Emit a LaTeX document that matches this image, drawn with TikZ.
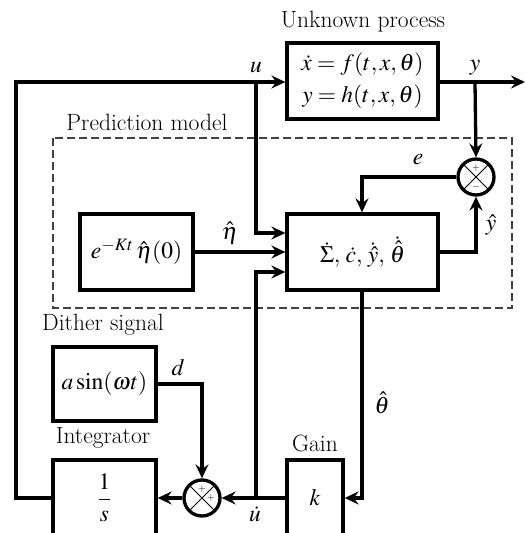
\documentclass[tikz,border=0pt]{standalone}
\usepackage{mathptmx}
\usetikzlibrary{arrows.meta}
\begin{document}
\begin{tikzpicture}[x=1pt,y=-1pt,
  font=\fontsize{23.5}{28}\selectfont,
  >={Stealth[length=14pt,width=13pt,inset=5pt]},
  blk/.style={draw, line width=3.3pt, rectangle, inner sep=0pt},
  sumnode/.style={draw, circle, line width=3.3pt, minimum size=36pt, inner sep=0pt,
    path picture={\draw[line width=0.9pt] (path picture bounding box.north west) -- (path picture bounding box.south east)
      (path picture bounding box.north east) -- (path picture bounding box.south west);}},
  wire/.style={line width=3.3pt},
  lbl/.style={inner sep=0pt},
  sgn/.style={font=\fontsize{10}{10}\selectfont, inner sep=0pt}]
\useasboundingbox (0,0) rectangle (525,533);
% dashed prediction model frame
\draw[black!75, line width=1.1pt, dash pattern=on 8pt off 4pt] (53,138) rectangle (512,308);
% blocks
\node[blk, minimum width=151pt, minimum height=76pt, align=center, font=\fontsize{23.5}{32}\selectfont] (proc) at (362.5,81) {$\dot x = f(t,x,\theta)$\\$y = h(t,x,\theta)$};
\node[blk, minimum width=151pt, minimum height=76pt] (main) at (362.5,252) {$\dot\Sigma,\,\dot c,\,\dot{\hat y},\,\dot{\hat\theta}$};
\node[blk, minimum width=113pt, minimum height=76pt] (init) at (136.5,252) {$e^{-Kt}\,\hat\eta(0)$};
\node[blk, minimum width=103pt, minimum height=74pt] (dith) at (104.5,384) {$a\sin(\omega t)$};
\node[blk, minimum width=103pt, minimum height=76pt] (integ) at (104.5,498) {$\displaystyle\frac{1}{s}$};
\node[blk, minimum width=56pt, minimum height=76pt] (gain) at (315,498) {$k$};
\node[sumnode] (s1) at (476,177) {};
\node[sumnode] (s2) at (202,498) {};
\node[sgn] (s1p) at (476,168) {+};
\node[sgn] (s1m) at (476,187) {$-$};
\node[sgn] (s2p) at (202,489) {+};
\node[sgn] (s2q) at (211,498) {+};
% titles
\node[lbl] (tproc) at (363,22) {Unknown process};
\node[lbl] (tpred) at (147,122) {Prediction model};
\node[lbl] (tdith) at (103,325) {Dither signal};
\node[lbl] (tint) at (103,438) {Integrator};
\node[lbl] (tgain) at (315,443) {Gain};
% coordinates
\coordinate (uB) at (256,82);
\coordinate (uL) at (16,82);
\coordinate (yB) at (475,82);
\coordinate (yE) at (525,82);
\coordinate (udB) at (256,498);
% wires
\draw[wire,->] (integ.west) -- (16,498) -- (uL) -- (proc.west |- uL);
\draw[wire,->] (uB) -- (256,233) -- (main.west |- 0,233);
\draw[wire,->] (proc.east |- yB) -- (yE);
\draw[wire,->] (yB) -- (s1.north);
\draw[wire,->] (s1.west) -- (362,177) -- (main.north -| 362,0);
\draw[wire,->] (main.east) -- (476,252) -- (s1.south);
\draw[wire,->] (init.east) -- (main.west);
\draw[wire,->] (udB) -- (256,272) -- (main.west |- 0,272);
\draw[wire,->] (main.south -| 362,0) -- (362,498) -- (gain.east);
\draw[wire,->] (gain.west) -- (s2.east);
\draw[wire,->] (s2.west) -- (integ.east);
\draw[wire,->] (dith.east |- 0,384) -- (202,384) -- (s2.north);
% signal labels
\node[lbl] (lu) at (256,68) {$u$};
\node[lbl] (ly) at (475,68) {$y$};
\node[lbl] (le) at (418,160) {$e$};
\node[lbl] (leta) at (230,233) {$\hat\eta$};
\node[lbl] (lyh) at (491,225) {$\hat y$};
\node[lbl] (ld) at (178,368) {$d$};
\node[lbl] (lth) at (382,403) {$\hat\theta$};
\node[lbl] (lud) at (255,514) {$\dot u$};
\end{tikzpicture}
\end{document}
